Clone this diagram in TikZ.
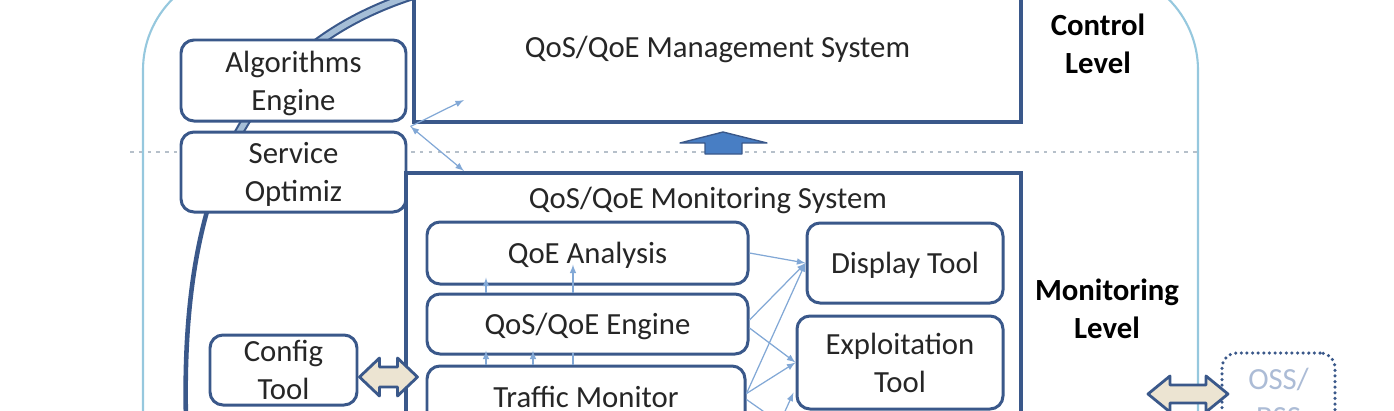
\documentclass[tikz,border=0pt]{standalone}
\usepackage{fontspec}
\setmainfont{Carlito}
\usepackage{xcolor}
\usetikzlibrary{arrows, calc}
\definecolor{boxblue}{RGB}{58,88,138}
\definecolor{rimblue}{RGB}{150,200,222}
\definecolor{arcblue}{RGB}{165,190,215}
\definecolor{linkblue}{RGB}{130,168,214}
\definecolor{upblue}{RGB}{72,126,196}
\definecolor{beige}{RGB}{236,228,210}
\definecolor{dashgray}{RGB}{182,192,202}
\definecolor{textgray}{RGB}{38,38,38}
\definecolor{ossgray}{RGB}{172,188,214}

\begin{document}
\begin{tikzpicture}[x=0.2mm, y=-0.2mm,
  every node/.style={font=\fontsize{17.5}{21.5}\selectfont, text=textgray, align=center, text depth=0pt},
  roundbox/.style={draw=boxblue, line width=1.7pt, rounded corners=2.6mm, fill=white, inner sep=0pt},
  sysbox/.style={draw=boxblue, line width=1.9pt, fill=white, inner sep=0pt},
  levellabel/.style={font=\fontsize{17.5}{21.5}\selectfont\bfseries, text=black},
  link/.style={linkblue, line width=0.7pt, -latex},
  bidiarrow/.style={draw=boxblue, fill=beige, line width=1.6pt, line join=round}
]
  \def\pu{0.2mm}
  \useasboundingbox (0,0) rectangle (1394,410);
  \clip (0,0) rectangle (1394,410);

  % frame, level divider and feedback arc
  \draw[rimblue, line width=1.2pt, rounded corners=20mm] (143,460) -- (143,-30) -- (1198,-30) -- (1198,460);
  \draw[dashgray, dash pattern=on 2pt off 3pt, line width=0.6pt] (130,152) -- (1198,152);
  \draw[boxblue, line width=1.2pt, double=arcblue, double distance=3.2pt] (430,-10) .. controls (340,15) and (277.5,62.5) .. (238.25,133.75);
  \draw[boxblue, line width=2.6pt] (238.25,133.75) .. controls (199,205) and (183,300) .. (186,420);

  % control level
  \node[roundbox, minimum width=225*\pu, minimum height=81*\pu] (alg) at (293.5,80.5) {Algorithms\\Engine};
  \node[roundbox, minimum width=225*\pu, minimum height=80*\pu] (svc) at (293.5,172) {Service\\Optimiz};
  \node[sysbox, minimum width=607*\pu, minimum height=150*\pu] (mgmt) at (717.5,47) {QoS/QoE Management System};
  \node[levellabel] (ctrl) at (1098,44) {Control\\Level};

  % monitoring level
  \node[sysbox, minimum width=615*\pu, minimum height=277*\pu] (mon) at (713.5,311.5) {};
  \node (montitle) at (708,198) {QoS/QoE Monitoring System};
  \node[roundbox, minimum width=321*\pu, minimum height=62*\pu] (qoe) at (587.5,253) {QoE Analysis};
  \node[roundbox, minimum width=321*\pu, minimum height=60*\pu] (eng) at (587.5,324) {QoS/QoE Engine};
  \node[roundbox, minimum width=318*\pu, minimum height=61*\pu] (tra) at (586,396.5) {Traffic Monitor};
  \node[roundbox, minimum width=196*\pu, minimum height=80*\pu] (disp) at (905,263) {Display Tool};
  \node[roundbox, minimum width=206*\pu, minimum height=93*\pu] (expl) at (900,362.5) {Exploitation\\Tool};
  \node[roundbox, minimum width=147*\pu, minimum height=70*\pu] (cfg) at (283.5,370) {Config\\Tool};
  \node[levellabel] (moni) at (1107,309) {Monitoring\\Level};
  \node[draw=boxblue, line width=2pt, dash pattern=on 0pt off 3.2pt, line cap=round, rounded corners=3mm,
        fill=white, inner sep=0pt, minimum width=113*\pu, minimum height=90*\pu, text=ossgray] (oss) at (1278.5,398) {OSS/\\BSS};

  % block arrows
  \coordinate (uptip) at (723,132);
  \draw[boxblue, fill=upblue, line width=0.8pt, line join=round] (uptip) -- ++(44,11) -- ++(-25,0) -- ++(0,11) -- ++(-37,0) -- ++(0,-11) -- ++(-25,0) -- cycle;
  \coordinate (cfgport) at ($(cfg.east)+(1,7)$);
  \draw[bidiarrow] (cfgport) -- ++(20,-19) -- ++(0,9) -- ++(18,0) -- ++(0,-9) -- ++(20,19) -- ++(-20,19) -- ++(0,-9) -- ++(-18,0) -- ++(0,9) -- cycle;
  \coordinate (ossport) at (1148,394);
  \draw[bidiarrow] (ossport) -- ++(22,-18) -- ++(0,9) -- ++(36,0) -- ++(0,-9) -- ++(22,18) -- ++(-22,18) -- ++(0,-9) -- ++(-36,0) -- ++(0,9) -- cycle;

  % thin links
  \coordinate (jn) at ($(alg.south east)!0.5!(svc.north east)+(3,0)$);
  \coordinate (mgmtin) at (464,100);
  \coordinate (monin) at (464,171);
  \draw[link] (jn) -- (mgmtin);
  \draw[link, latex-latex] (jn) -- (monin);
  \draw[link] (eng.north -| 486,0) -- ++(0,-15);
  \draw[link] (eng.north -| 573,0) -- ++(0,-28);
  \draw[link] (tra.north -| 486,0) -- ++(0,-14);
  \draw[link] (tra.north -| 533,0) -- ++(0,-14);
  \draw[linkblue, line width=0.7pt] (tra.north -| 573,0) -- ++(0,-12);
  \draw[link] (qoe.east) -- (disp.west);
  \draw[link] ($(eng.east)+(0,-4)$) -- (disp.west);
  \draw[link] ($(eng.east)+(0,4)$) -- (expl.west);
  \draw[link] ($(tra.east)+(0,-3)$) -- (disp.west);
  \draw[link] ($(tra.east)+(0,-3)$) -- (expl.west);
  \coordinate (offa) at (790,430);
  \coordinate (offb) at (772,440);
  \draw[linkblue, line width=0.7pt] ($(tra.east)+(0,3)$) -- (offa);
  \draw[link] (offb) -- ($(expl.west)+(-2,30)$);
\end{tikzpicture}
\end{document}
